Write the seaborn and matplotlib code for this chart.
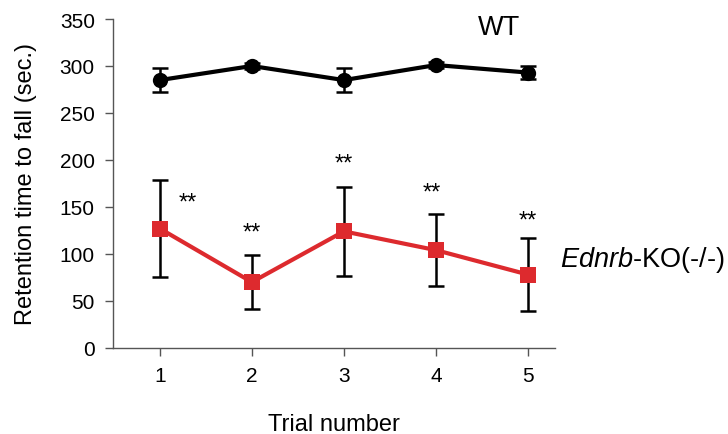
import numpy as np
import pandas as pd
import matplotlib
matplotlib.use("Agg")
import matplotlib.pyplot as plt
import seaborn as sns

# -------------------------------------------------------------
# data
# -------------------------------------------------------------
trials = [1, 2, 3, 4, 5]
wt_mean = [285, 300, 285, 301, 293]
wt_sem = [13, 3, 13, 3, 7]
ko_mean = [127, 70, 124, 104, 78]
ko_sem = [52, 29, 47, 38, 39]
star_x = [1.3, 2.0, 3.0, 3.95, 5.0]
star_y = [155, 123, 196, 165, 136]

sns.set_style("ticks")
plt.rcParams["font.family"] = ["Liberation Sans", "DejaVu Sans"]
plt.rcParams["mathtext.fontset"] = "custom"
plt.rcParams["mathtext.it"] = "Liberation Sans:italic"
plt.rcParams["text.color"] = "black"
plt.rcParams["axes.labelcolor"] = "black"
plt.rcParams["xtick.labelcolor"] = "black"
plt.rcParams["ytick.labelcolor"] = "black"

fig = plt.figure(figsize=(7.28, 4.35), dpi=100)
ax = fig.add_axes([0.155, 0.198, 0.607, 0.756])

df = pd.DataFrame({"trial": trials * 2,
                   "value": wt_mean + ko_mean,
                   "group": ["WT"] * 5 + ["KO"] * 5})

# error bars
ax.errorbar(trials, wt_mean, yerr=wt_sem, fmt="none", ecolor="black",
            elinewidth=1.8, capsize=6, capthick=1.8, zorder=1)
ax.errorbar(trials, ko_mean, yerr=ko_sem, fmt="none", ecolor="black",
            elinewidth=1.8, capsize=6, capthick=1.8, zorder=1)

sns.lineplot(data=df[df.group == "WT"], x="trial", y="value", color="black",
             marker="o", markersize=11, linewidth=3, markeredgewidth=0,
             ax=ax, zorder=3)
sns.lineplot(data=df[df.group == "KO"], x="trial", y="value", color="#dd2a2e",
             marker="s", markersize=11, linewidth=3, markeredgewidth=0,
             ax=ax, zorder=3)

for x, y in zip(star_x, star_y):
    ax.text(x, y, "**", ha="center", va="center", fontsize=17)

ax.text(4.68, 341, "WT", ha="center", va="center", fontsize=19.5)
ax.text(5.35, 95, "$\\it{Ednrb}$-KO(-/-)", ha="left", va="center",
        fontsize=19.5, clip_on=False)

ax.set_xlim(0.49, 5.29)
ax.set_ylim(0, 350)
ax.set_xticks(trials)
ax.set_yticks(np.arange(0, 351, 50))
ax.tick_params(labelsize=15, color="#555555", length=6, width=1, pad=7)
ax.set_xlabel("Trial number", fontsize=17, labelpad=20)
ax.set_ylabel("Retention time to fall (sec.)", fontsize=17, labelpad=16)
for s in ["top", "right"]:
    ax.spines[s].set_visible(False)
for s in ["left", "bottom"]:
    ax.spines[s].set_color("#555555")
    ax.spines[s].set_linewidth(1)

fig.savefig("out.png", dpi=100)
